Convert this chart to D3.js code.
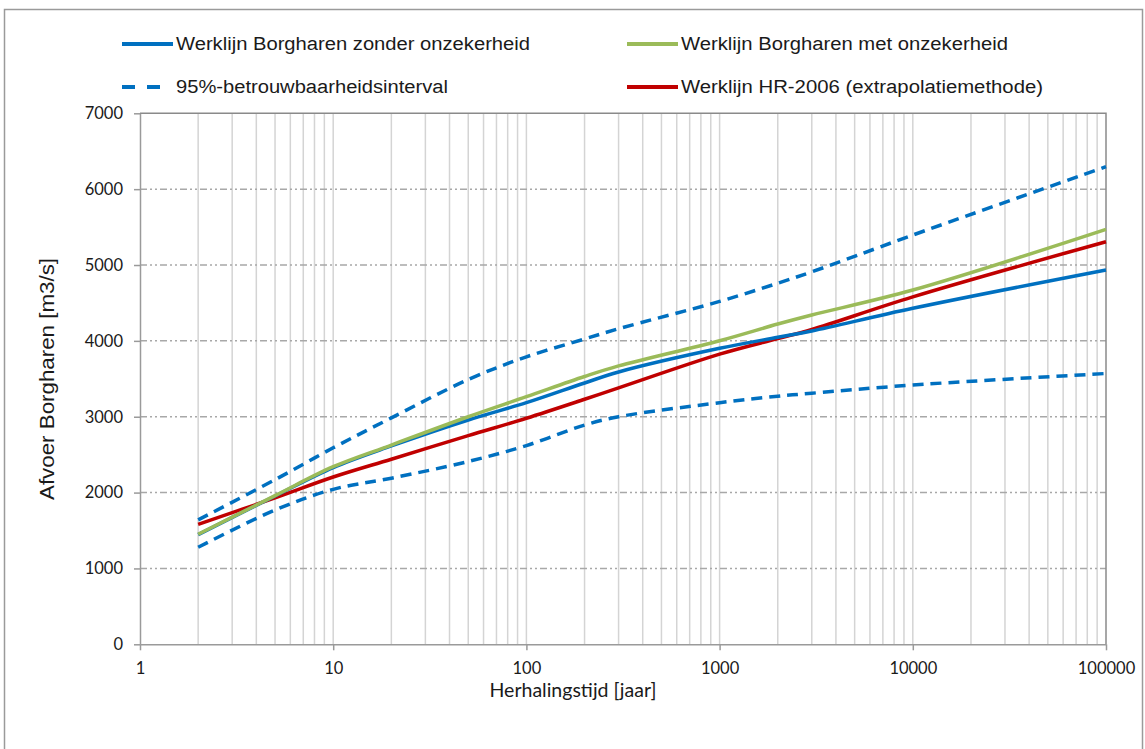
<!DOCTYPE html>
<html>
<head>
<meta charset="utf-8">
<script src="https://cdn.jsdelivr.net/npm/d3@7"></script>
<style>
  html, body { margin: 0; padding: 0; background: #fff; }
  svg { display: block; }
</style>
</head>
<body>
<svg id="chart" width="1145" height="749"></svg>
<script>
// Herhalingstijden (jaar) waarop de werklijnen zijn bepaald
const returnPeriods = [2, 5, 10, 20, 50, 100, 200, 300, 1000, 2000, 3000, 10000, 100000];

// Afvoer Borgharen [m3/s]
const zonderOnzekerheid = [1445, 1955, 2330, 2615, 2957, 3185, 3445, 3590, 3902, 4047, 4130, 4429, 4934];
const metOnzekerheid    = [1450, 1960, 2341, 2627, 3000, 3264, 3530, 3670, 4002, 4222, 4341, 4670, 5470];
const hr2006            = [1582, 1930, 2205, 2440, 2750, 2980, 3230, 3380, 3825, 4030, 4150, 4580, 5307];
const intervalBoven     = [1640, 2170, 2590, 2985, 3490, 3790, 4025, 4160, 4520, 4760, 4910, 5395, 6296];
const intervalOnder     = [1279, 1770, 2043, 2190, 2410, 2620, 2890, 3000, 3185, 3270, 3310, 3418, 3570];

const xTickValues = [1, 10, 100, 1000, 10000, 100000];
const yTickValues = [0, 1000, 2000, 3000, 4000, 5000, 6000, 7000];

const legendLabels = [
  "Werklijn Borgharen zonder onzekerheid",
  "Werklijn Borgharen met onzekerheid",
  "95%-betrouwbaarheidsinterval",
  "Werklijn HR-2006 (extrapolatiemethode)"
];

const BLUE = "#0070C0", GREEN = "#9BBB59", RED = "#C00000";

const svg = d3.select("#chart");

// outer frame
svg.append("rect")
  .attr("x", 4.5).attr("y", 9.5).attr("width", 1138).attr("height", 760)
  .attr("fill", "none").attr("stroke", "#9a9a9a").attr("stroke-width", 1.5);

const plot = { left: 140, right: 1106, top: 113.3, bottom: 644.3 };

const x = d3.scaleLog().domain([1, 100000]).range([plot.left, plot.right]);
const y = d3.scaleLinear().domain([0, 7000]).range([plot.bottom, plot.top]);

// vertical grid at every minor/major step of the log axis
const minorTicks = [];
for (let d = 1; d < 100000; d *= 10) {
  for (let k = 2; k <= 10; k++) minorTicks.push(d * k);
}
svg.append("g").selectAll("line")
  .data(minorTicks.filter(v => v < 100000))
  .join("line")
  .attr("x1", d => x(d)).attr("x2", d => x(d))
  .attr("y1", plot.top).attr("y2", plot.bottom)
  .attr("stroke", "#d4d4d4").attr("stroke-width", 1.5);

// horizontal grid (dash-dot-dot)
svg.append("g").selectAll("line")
  .data(yTickValues.filter(v => v > 0 && v < 7000))
  .join("line")
  .attr("x1", plot.left).attr("x2", plot.right)
  .attr("y1", d => y(d)).attr("y2", d => y(d))
  .attr("stroke", "#a8a8a8").attr("stroke-width", 1.5)
  .attr("stroke-dasharray", "7,3,2,3,2,3");

// plot border top/right
svg.append("path")
  .attr("d", `M${plot.left},${plot.top}H${plot.right}V${plot.bottom}`)
  .attr("fill", "none").attr("stroke", "#8a8a8a").attr("stroke-width", 1.5);

// axes
const xAxis = d3.axisBottom(x).tickValues(xTickValues).tickFormat(d3.format("d"))
  .tickSizeInner(6).tickSizeOuter(0).tickPadding(12);
const gx = svg.append("g").attr("transform", `translate(0,${plot.bottom})`).call(xAxis);
const yAxis = d3.axisLeft(y).tickValues(yTickValues).tickFormat(d3.format("d"))
  .tickSizeInner(6).tickSizeOuter(0).tickPadding(11);
const gy = svg.append("g").attr("transform", `translate(${plot.left},0)`).call(yAxis);

[gx, gy].forEach(g => {
  g.selectAll(".domain").attr("stroke", "#9a9a9a").attr("stroke-width", 1.5);
  g.selectAll(".tick line").attr("stroke", "#9a9a9a").attr("stroke-width", 1.5);
  g.selectAll(".tick text")
    .attr("font-family", "Lato, 'Open Sans', sans-serif")
    .attr("font-size", 16.5).attr("fill", "#1a1a1a");
});

// axis titles
svg.append("text")
  .attr("x", 573).attr("y", 697)
  .attr("text-anchor", "middle")
  .attr("font-family", "Lato, 'Open Sans', sans-serif")
  .attr("font-size", 19.5).attr("fill", "#1a1a1a")
  .attr("textLength", 167).attr("lengthAdjust", "spacingAndGlyphs")
  .text("Herhalingstijd [jaar]");

svg.append("text")
  .attr("transform", "translate(54,379) rotate(-90)")
  .attr("text-anchor", "middle")
  .attr("font-family", "'Liberation Sans', Arial, sans-serif")
  .attr("font-size", 20).attr("fill", "#1a1a1a")
  .attr("textLength", 242).attr("lengthAdjust", "spacingAndGlyphs")
  .text("Afvoer Borgharen  [m3/s]");

// curves
const pts = vals => returnPeriods.map((t, i) => [t, vals[i]]);
const line = d3.line().x(d => x(d[0])).y(d => y(d[1])).curve(d3.curveCatmullRom.alpha(0.5));

const series = [
  { vals: intervalOnder, color: BLUE, dash: "11,7" },
  { vals: intervalBoven, color: BLUE, dash: "11,7" },
  { vals: hr2006, color: RED, dash: null },
  { vals: zonderOnzekerheid, color: BLUE, dash: null },
  { vals: metOnzekerheid, color: GREEN, dash: null }
];
svg.append("g").selectAll("path")
  .data(series)
  .join("path")
  .attr("d", s => line(pts(s.vals)))
  .attr("fill", "none")
  .attr("stroke", s => s.color)
  .attr("stroke-width", 3.5)
  .attr("stroke-dasharray", s => s.dash);

// legend
const legend = [
  { label: legendLabels[0], color: BLUE, dash: null, len: 51, x: 122, y: 44, w: 354 },
  { label: legendLabels[1], color: GREEN, dash: null, len: 51, x: 627, y: 44, w: 327 },
  { label: legendLabels[2], color: BLUE, dash: "13,12", len: 38, x: 122, y: 87, w: 272 },
  { label: legendLabels[3], color: RED, dash: null, len: 51, x: 627, y: 87, w: 362 }
];
const lg = svg.append("g").selectAll("g").data(legend).join("g");
lg.append("line")
  .attr("x1", d => d.x).attr("x2", d => d.x + d.len)
  .attr("y1", d => d.y).attr("y2", d => d.y)
  .attr("stroke", d => d.color).attr("stroke-width", 4)
  .attr("stroke-dasharray", d => d.dash);
lg.append("text")
  .attr("x", d => d.x + 54).attr("y", d => d.y + 6)
  .attr("font-family", "'Liberation Sans', Arial, sans-serif")
  .attr("font-size", 18).attr("fill", "#1a1a1a")
  .attr("textLength", d => d.w).attr("lengthAdjust", "spacingAndGlyphs")
  .text(d => d.label);
</script>
</body>
</html>
